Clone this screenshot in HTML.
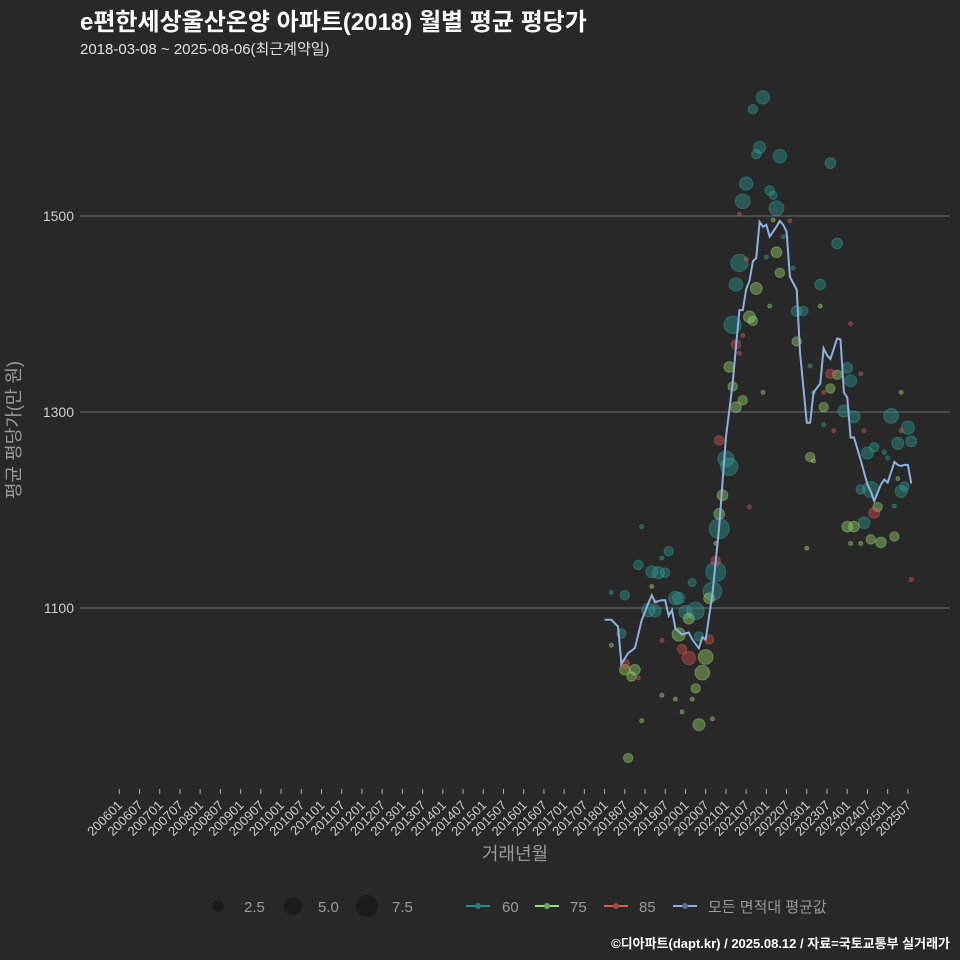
<!DOCTYPE html>
<html><head><meta charset="utf-8">
<style>
html,body{margin:0;padding:0;background:#282828;}
svg{display:block;font-family:"Liberation Sans","Noto Sans CJK KR",sans-serif;}
</style></head>
<body>
<svg id="chart" width="960" height="960" viewBox="0 0 960 960">
<rect width="960" height="960" fill="#282828"/>
<text x="80" y="30" fill="#ffffff" font-size="24" font-weight="bold">e편한세상울산온양 아파트(2018) 월별 평균 평당가</text>
<text x="80" y="54" fill="#e0e0e0" font-size="15">2018-03-08 ~ 2025-08-06(최근계약일)</text>
<g id="grid"></g>
<g id="yticks"></g>
<g id="xticks"></g>
<g id="bubbles"></g>
<path id="avgline" fill="none" stroke="#8fb0dc" stroke-width="2"/>
<text x="20" y="430" fill="#999" font-size="18" text-anchor="middle" transform="rotate(-90 20 430)">평균 평당가(만 원)</text>
<text x="515" y="860" fill="#999" font-size="18" text-anchor="middle">거래년월</text>
<g>
<circle cx="218" cy="906" r="6" fill="#1c1c1c"/>
<text x="244" y="912" fill="#999" font-size="15">2.5</text>
<circle cx="293" cy="906" r="9" fill="#1c1c1c"/>
<text x="318" y="912" fill="#999" font-size="15">5.0</text>
<circle cx="367" cy="906" r="11" fill="#1c1c1c"/>
<text x="392" y="912" fill="#999" font-size="15">7.5</text>
<line x1="466" y1="906" x2="490" y2="906" stroke="#1f8f88" stroke-width="2"/>
<circle cx="478" cy="906" r="3" fill="#2a7f7a"/>
<text x="502" y="912" fill="#999" font-size="15">60</text>
<line x1="535" y1="906" x2="559" y2="906" stroke="#8fe07a" stroke-width="2"/>
<circle cx="547" cy="906" r="3" fill="#6fa860"/>
<text x="570" y="912" fill="#999" font-size="15">75</text>
<line x1="604" y1="906" x2="628" y2="906" stroke="#e05555" stroke-width="2"/>
<circle cx="616" cy="906" r="3" fill="#a04848"/>
<text x="639" y="912" fill="#999" font-size="15">85</text>
<line x1="673" y1="906" x2="697" y2="906" stroke="#8fb0dc" stroke-width="2"/>
<circle cx="685" cy="906" r="3" fill="#5a6e90"/>
<text x="708" y="912" fill="#999" font-size="15">모든 면적대 평균값</text>
</g>
<text x="950" y="948" fill="#ffffff" font-size="13" font-weight="bold" text-anchor="end">©디아파트(dapt.kr) / 2025.08.12 / 자료=국토교통부 실거래가</text>
</svg>
<script>
// months since 2018-01 for line
const lineMonths = [0,2,4,5,7,9,11,13,14,15,17,18,19,20,21,23,25,26,28,29,30,32,34,35,36,38,40,41,42,43,44,45,46,47,48,49,51,52,53,54,55,57,58,60,61,62,64,65,66,67,69,70,71,72,73,74,76,78,79,80,82,83,84,86,87,88,89,90,91];
const lineValues = [1088,1088,1081,1043,1054,1059,1087,1105,1113,1106,1108,1108,1092,1098,1079,1073,1075,1068,1059,1070,1068,1114,1183,1228,1274,1329,1404,1404,1425,1434,1454,1457,1494,1489,1491,1479,1489,1495,1491,1484,1438,1425,1361,1289,1289,1320,1329,1365,1358,1354,1375,1374,1320,1315,1274,1274,1251,1226,1219,1209,1226,1231,1228,1249,1246,1245,1246,1246,1227];
const tealMonths = [47,44,46,45,52,67,42,41,49,50,51,69,40,39,64,57,59,38,61,72,73,71,74,85,90,87,91,80,78,83,84,36,37,76,79,88,89,86,77,34,33,32,11,19,17,10,14,16,18,2,6,26,21,22,24,27,13,15,5,28,62,65,56,48,53];
const tealValues = [1621,1609,1570,1563,1561,1554,1533,1515,1526,1521,1508,1472,1452,1430,1430,1403,1403,1389,1347,1345,1332,1301,1295,1296,1284,1268,1270,1264,1258,1259,1253,1252,1244,1221,1221,1219,1224,1204,1187,1181,1137,1117,1183,1158,1151,1144,1137,1136,1136,1116,1113,1126,1110,1110,1096,1097,1098,1097,1074,1071,1320,1287,1447,1458,1479];
const tealCounts = [2.8,1.4,2.25,1.4,2.8,1.8,2.8,3.4,1.4,1,3.4,1.8,4.7,2.8,1.8,1.8,1.4,4.7,0.25,1.8,2.25,2.25,2.25,3.4,2.8,2.25,1.8,1.4,2.25,0.25,0.25,4,4.7,1.4,4,2.25,1.4,0.25,2.25,6.25,6.25,5.4,0.25,1.4,0.25,1.4,2.25,2.25,1.4,0.25,1.4,1,2.8,2.25,2.8,4.7,2.8,2.25,1.4,1.4,0.25,0.25,0.25,0.25,0.25];
const greenMonths = [51,52,45,43,44,49,57,37,38,41,39,47,64,65,67,69,88,61,62,35,34,33,31,25,22,30,29,27,6,9,8,2,14,17,21,26,23,11,32,28,7,60,72,74,73,76,79,82,86,81,87,50];
const greenValues = [1463,1442,1426,1397,1393,1408,1372,1346,1326,1312,1305,1320,1408,1305,1324,1338,1320,1254,1250,1215,1196,1166,1110,1089,1073,1050,1034,1018,1037,1037,1030,1062,1122,1011,1007,1007,994,985,987,981,947,1161,1183,1183,1166,1166,1170,1167,1173,1203,1232,1496];
const greenCounts = [1.8,1.4,2.25,2.25,1.4,0.25,1.4,1.8,1.4,1.4,1.8,0.25,0.25,1.4,1.4,1.4,0.25,1.4,0.25,1.8,1.8,0.25,1.8,1.8,2.8,3.4,3.4,1.4,1.8,1.8,1.4,0.25,0.25,0.25,0.25,0.25,0.25,0.25,0.25,2.25,1.4,0.25,1.8,1.8,0.25,0.25,1.4,1.8,1.4,1.4,0.25,0.25];
const redMonths = [40,55,42,41,39,40,73,76,67,65,34,43,68,77,88,80,91,33,31,23,25,17,10,6,15];
const redValues = [1502,1495,1456,1378,1369,1360,1390,1339,1339,1320,1271,1203,1281,1281,1281,1197,1129,1148,1068,1058,1049,1067,1029,1043,1106];
const redCounts = [0.25,0.25,0.25,0.25,1.4,0.25,0.25,0.25,1.4,0.25,1.4,0.25,0.25,0.25,0.25,1.8,0.25,1.4,1.4,1.4,2.8,0.25,0.25,1.4,0.25];
const yTicks = [1100,1300,1500];
const xTickLabels = [];
for (let y = 2006; y <= 2025; y++) { xTickLabels.push(y + '01'); xTickLabels.push(y + '07'); }

const NS = 'http://www.w3.org/2000/svg';
const X0 = 119.3, PX_PER_MONTH = 3.37, BASE = 144; // 2018-01 is 144 months after 2006-01
function xScale(m) { return X0 + (m + BASE) * PX_PER_MONTH; }
function xTickPos(i) { return X0 + i * 6 * PX_PER_MONTH; }
function yScale(v) { return 608 - (v - 1100) * 0.98; }
function rScale(n) { return 4 * Math.sqrt(n); }

const grid = document.getElementById('grid');
const yt = document.getElementById('yticks');
yTicks.forEach(v => {
  const l = document.createElementNS(NS, 'line');
  l.setAttribute('x1', 80); l.setAttribute('x2', 950);
  l.setAttribute('y1', yScale(v)); l.setAttribute('y2', yScale(v));
  l.setAttribute('stroke', '#6a6a6a'); l.setAttribute('stroke-width', '1');
  
  
  grid.appendChild(l);
  const t = document.createElementNS(NS, 'text');
  t.setAttribute('x', 74); t.setAttribute('y', yScale(v) + 5);
  t.setAttribute('fill', '#cccccc'); t.setAttribute('font-size', '14'); t.setAttribute('text-anchor', 'end');
  t.textContent = v;
  
  
  yt.appendChild(t);
});
const xt = document.getElementById('xticks');
xTickLabels.forEach((lab, i) => {
  const x = xTickPos(i);
  const l = document.createElementNS(NS, 'line');
  l.setAttribute('x1', x); l.setAttribute('x2', x);
  l.setAttribute('y1', 789); l.setAttribute('y2', 794);
  l.setAttribute('stroke', '#aaaaaa');
  
  
  xt.appendChild(l);
  const t = document.createElementNS(NS, 'text');
  t.setAttribute('x', x + 4); t.setAttribute('y', 806);
  t.setAttribute('fill', '#cccccc'); t.setAttribute('font-size', '13'); t.setAttribute('text-anchor', 'end');
  t.setAttribute('transform', 'rotate(-45 ' + (x + 4) + ' 806)');
  t.textContent = lab;
  
  
  xt.appendChild(t);
});
const bub = document.getElementById('bubbles');
function drawSeries(months, values, counts, fill, stroke, name) {
  months.forEach((m, i) => {
    const c = document.createElementNS(NS, 'circle');
    c.setAttribute('cx', xScale(m)); c.setAttribute('cy', yScale(values[i]));
    c.setAttribute('r', rScale(counts[i]));
    c.setAttribute('fill', fill); c.setAttribute('fill-opacity', '0.42');
    c.setAttribute('stroke', stroke); c.setAttribute('stroke-opacity', '0.35');
    
    
    bub.appendChild(c);
  });
}
drawSeries(tealMonths, tealValues, tealCounts, '#2a9a92', '#3fb5ad', 'bubble-60');
drawSeries(greenMonths, greenValues, greenCounts, '#9ad46e', '#b0e88a', 'bubble-75');
drawSeries(redMonths, redValues, redCounts, '#d84f4f', '#e86a6a', 'bubble-85');
let d = '';
lineMonths.forEach((m, i) => { d += (i ? 'L' : 'M') + xScale(m).toFixed(1) + ',' + yScale(lineValues[i]).toFixed(1); });
document.getElementById('avgline').setAttribute('d', d);
</script>
</body></html>
